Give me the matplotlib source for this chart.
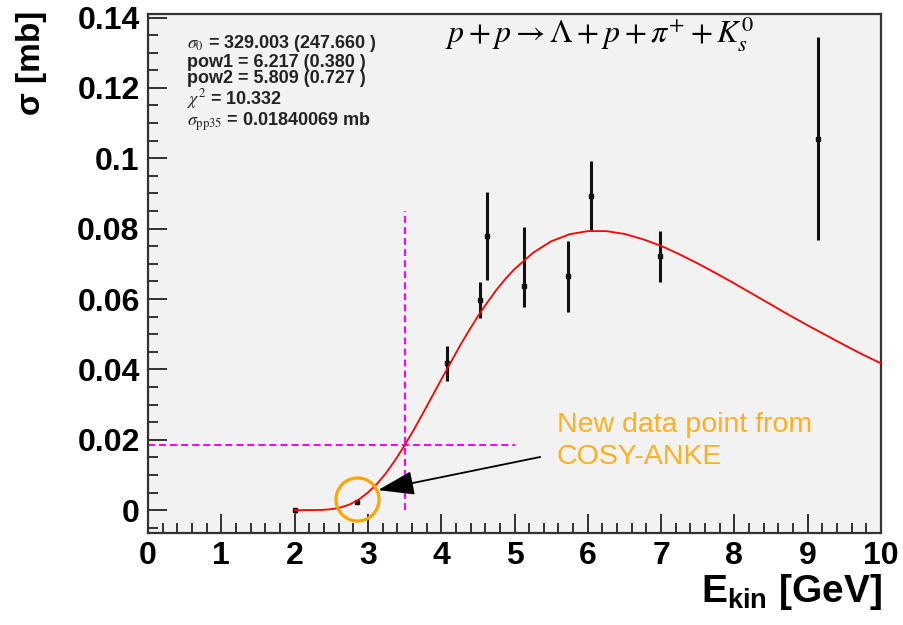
import matplotlib
matplotlib.use("Agg")
import matplotlib.pyplot as plt
from matplotlib.ticker import MultipleLocator

# measured cross sections (E_kin in GeV, sigma in mb)
E_DATA = [2.0, 2.85, 4.08, 4.53, 4.63, 5.13, 5.73, 6.04, 6.99, 9.14]
SIGMA = [0.0, 0.0023, 0.0418, 0.0598, 0.0780, 0.0637, 0.0666, 0.0894, 0.0721, 0.1056]
ERR_LO = [0.0007, 0.0004, 0.0050, 0.0052, 0.0127, 0.0060, 0.0102, 0.0102, 0.0074, 0.0288]
ERR_HI = [0.0007, 0.0004, 0.0049, 0.0049, 0.0124, 0.0169, 0.0098, 0.0099, 0.0073, 0.0290]

# fit curve
E_FIT = [2.0, 2.125, 2.25, 2.375, 2.5, 2.625, 2.75, 2.875, 3.0, 3.125, 3.25, 3.375,
         3.5, 3.625, 3.75, 3.875, 4.0, 4.125, 4.25, 4.375, 4.5, 4.625, 4.75, 4.875,
         5.0, 5.25, 5.5, 5.75, 6.0, 6.25, 6.5, 6.75, 7.0, 7.25, 7.5, 7.75, 8.0,
         8.25, 8.5, 8.75, 9.0, 9.25, 9.5, 9.75, 10.0]
SIGMA_FIT = [0.0, 0.0, 0.00001, 0.00007, 0.00027, 0.00074, 0.0016, 0.0030, 0.0050,
             0.0075, 0.0106, 0.0143, 0.0184, 0.0228, 0.0275, 0.0323, 0.0371, 0.0418,
             0.0465, 0.0509, 0.0551, 0.0589, 0.0625, 0.0657, 0.0685, 0.0731, 0.0764,
             0.0784, 0.0793, 0.0793, 0.0785, 0.0770, 0.0751, 0.0727, 0.0701, 0.0673,
             0.0644, 0.0614, 0.0584, 0.0554, 0.0525, 0.0497, 0.0469, 0.0442, 0.0417]

E_THR35 = 3.5
SIGMA_PP35 = 0.0184
NEW_POINT = (2.85, 0.0031)

Y_TICKS = [0, 0.02, 0.04, 0.06, 0.08, 0.1, 0.12, 0.14]
Y_TICKLABELS = ["0", "0.02", "0.04", "0.06", "0.08", "0.1", "0.12", "0.14"]
X_TICKS = list(range(11))

FIT_LINES = [
    r"$\sigma_{0}$ = 329.003 (247.660 )",
    "pow1 = 6.217 (0.380 )",
    "pow2 = 5.809 (0.727 )",
    r"$\chi^{2}$ = 10.332",
    r"$\sigma_{\rm pp35}$ = 0.01840069 mb",
]

W, H = 904, 625


def fx(px):
    return px / W


def fy(py):
    return 1 - py / H


def main():
    plt.rcParams["font.family"] = ["Liberation Sans", "DejaVu Sans"]
    plt.rcParams["mathtext.fontset"] = "custom"
    plt.rcParams["mathtext.rm"] = "Liberation Sans:bold"
    plt.rcParams["mathtext.it"] = "Liberation Sans:bold"
    plt.rcParams["mathtext.bf"] = "Liberation Sans:bold"

    fig = plt.figure(figsize=(W / 100, H / 100), dpi=100)
    ax = fig.add_axes([fx(148), 92 / H, 733 / W, 519 / H])
    ax.set_facecolor("#F2F2F2")

    ax.set_xlim(0, 10)
    ax.set_ylim(-0.0065, 0.141)

    # threshold guide lines
    ax.plot([0, 5], [SIGMA_PP35, SIGMA_PP35], color="#FF00FF", lw=1.5,
            ls=(0, (3.3, 2)), zorder=2)
    ax.plot([E_THR35, E_THR35], [0, 0.085], color="#FF00FF", lw=1.5,
            ls=(0, (3.3, 2)), zorder=2)

    ax.errorbar(E_DATA, SIGMA, yerr=[ERR_LO, ERR_HI], fmt="s", color="#111111",
                ms=3.5, elinewidth=2.2, capsize=0, zorder=3)
    ax.plot(E_FIT, SIGMA_FIT, color="#FF0000", lw=1.3, zorder=4)

    # highlight of the new point
    ax.plot([NEW_POINT[0]], [NEW_POINT[1]], marker="o", ms=31, mfc="none",
            mec="#FFA500", mew=2.3, zorder=5)
    ax.annotate("", xy=(3.14, 0.0057), xytext=(5.35, 0.0151),
                arrowprops=dict(arrowstyle="-|>,head_length=1.5,head_width=0.5",
                                mutation_scale=15, color="black", lw=1.3,
                                shrinkA=0, shrinkB=0), zorder=6)

    ax.set_xticks(X_TICKS)
    ax.set_xticklabels([str(t) for t in X_TICKS], fontweight="bold")
    ax.set_yticks(Y_TICKS)
    ax.set_yticklabels(Y_TICKLABELS, fontweight="bold")
    ax.xaxis.set_minor_locator(MultipleLocator(0.2))
    ax.yaxis.set_minor_locator(MultipleLocator(0.005))
    ax.tick_params(which="both", direction="in", top=False, right=False,
                   width=1.3, color="#222222", labelsize=23)
    ax.tick_params(which="major", length=14, pad=6)
    ax.tick_params(which="minor", length=7)
    for s in ax.spines.values():
        s.set_linewidth(1.6)
        s.set_color("#333333")

    fig.text(fx(882), fy(592), r"E$_{\rm kin}$ [GeV]", fontsize=28,
             fontweight="bold", ha="right", va="center")
    fig.text(fx(32), fy(11), "σ [mb]", fontsize=24, fontweight="bold",
             rotation=90, ha="center", va="top")

    # fit results, one block of text
    fig.text(fx(187), fy(33), "\n".join(FIT_LINES), fontsize=13,
             fontweight="bold", color="#222222", va="top", linespacing=0.97,
             math_fontfamily="stix")

    fig.text(fx(445), fy(43), r"$p+p\rightarrow\Lambda+p+\pi^{+}+K_{s}^{0}$",
             fontsize=23, va="baseline", math_fontfamily="stix")

    fig.text(fx(557), fy(412), "New data point from\nCOSY-ANKE", fontsize=20.5,
             color="#FFB020", va="top", linespacing=1.3)

    fig.savefig("out.png", dpi=100)


if __name__ == "__main__":
    main()
